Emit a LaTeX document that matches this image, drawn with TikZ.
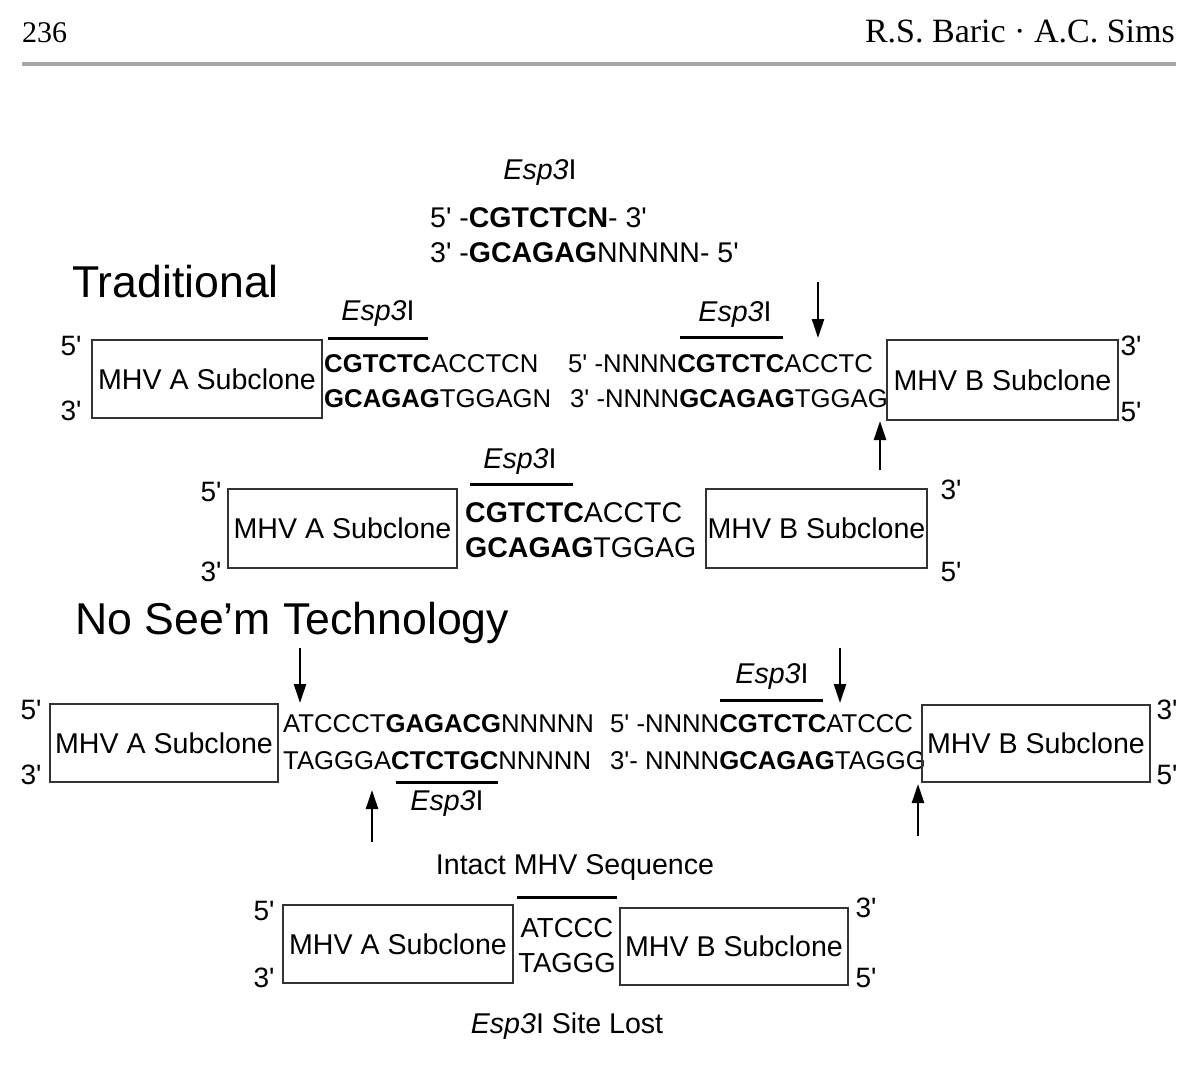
\documentclass[tikz,border=0pt]{standalone}
\usepackage{fontspec}
\setmainfont{Liberation Sans}[Ligatures=TeXOff]
\newfontfamily\serifhead{Liberation Serif}
\usetikzlibrary{arrows.meta}
\newcommand\espname{\textit{Esp3}I}
\tikzset{
  sub/.style={draw=black!80, line width=2pt, minimum width=230pt, minimum height=78pt, inner sep=0pt, font=\fontsize{28.6}{31}\selectfont},
  seq/.style={anchor=west, inner sep=0pt, font=\fontsize{25.7}{28}\selectfont},
  seqbig/.style={anchor=west, inner sep=0pt, font=\fontsize{28.5}{31}\selectfont},
  endlab/.style={inner sep=0pt, font=\fontsize{28}{30}\selectfont},
  enz/.style={inner sep=0pt, font=\fontsize{28.6}{31}\selectfont},
  site/.style={line width=3pt},
  cutarrow/.style={line width=2.5pt, -{Triangle[length=19pt,width=12pt]}},
  headline/.style={inner sep=0pt, font=\fontsize{44.6}{48}\selectfont},
}
\begin{document}
\begin{tikzpicture}[x=1pt,y=-1pt]
\useasboundingbox (0,0) rectangle (1200,1071);
% page header
\node[anchor=base west, inner sep=0pt, font=\serifhead\fontsize{30}{32}\selectfont] (pg) at (22,42) {236};
\node[anchor=base east, inner sep=0pt, font=\serifhead\fontsize{34}{36}\selectfont] (au) at (1175,42) {R.S. Baric · A.C. Sims};
\coordinate (r1) at (22,64); \coordinate (r2) at (1176,64);
\draw[line width=4.5pt, gray!70] (r1) -- (r2);

% enzyme definition
\node[enz] (e0) at (540,172) {\espname};
\node[seqbig] (t1) at (430,218) {5' -\textbf{CGTCTCN}- 3'};
\node[seqbig] (t2) at (430,253) {3' -\textbf{GCAGAG}NNNNN- 5'};

% Traditional
\node[headline, anchor=west] (trad) at (72,282) {Traditional};

% row 1
\node[sub] (a1) at (207,379) {MHV A Subclone};
\node[endlab] (a1p) at (71,346) {5'};
\node[endlab] (a1q) at (71,411) {3'};
\node[seq] (s1a) at (324,364) {\textbf{CGTCTC}ACCTCN};
\node[seq] (s1b) at (324,399) {\textbf{GCAGAG}TGGAGN};
\coordinate (o1a) at (328,338); \coordinate (o1b) at (428,338);
\draw[site] (o1a) -- (o1b);
\node[enz] (e1) at (378,313) {\espname};

\node[seq] (s1c) at (568,364) {5' -NNNN\textbf{CGTCTC}ACCTC};
\node[seq] (s1d) at (570,399) {3' -NNNN\textbf{GCAGAG}TGGAG};
\coordinate (o2a) at (680,337); \coordinate (o2b) at (783,337);
\draw[site] (o2a) -- (o2b);
\node[enz] (e2) at (735,314) {\espname};
\coordinate (k1s) at (818,282); \coordinate (k1e) at (818,338);
\draw[cutarrow] (k1s) -- (k1e);
\node[sub, minimum width=231pt, minimum height=80pt] (b1) at (1002.5,380) {MHV B Subclone};
\node[endlab] (b1p) at (1131,346) {3'};
\node[endlab] (b1q) at (1131,412) {5'};
\coordinate (k2s) at (880,470); \coordinate (k2e) at (880,421);
\draw[cutarrow] (k2s) -- (k2e);

% row 2
\node[sub, minimum width=229pt, minimum height=79pt] (a2) at (342.5,528.5) {MHV A Subclone};
\node[endlab] (a2p) at (211,492) {5'};
\node[endlab] (a2q) at (211,572) {3'};
\node[seqbig] (s2a) at (465,513) {\textbf{CGTCTC}ACCTC};
\node[seqbig] (s2b) at (465,548) {\textbf{GCAGAG}TGGAG};
\coordinate (o3a) at (470,484); \coordinate (o3b) at (573,484);
\draw[site] (o3a) -- (o3b);
\node[enz] (e3) at (520,461) {\espname};
\node[sub, minimum width=221pt, minimum height=79pt] (b2) at (816.5,528.5) {MHV B Subclone};
\node[endlab] (b2p) at (951,490) {3'};
\node[endlab] (b2q) at (951,572) {5'};

% No See'm
\node[headline, anchor=base west] (nsm) at (75,634) {No See’m Technology};

% row 3
\node[sub, minimum width=228pt] (a3) at (164,743) {MHV A Subclone};
\node[endlab] (a3p) at (31,710) {5'};
\node[endlab] (a3q) at (31,775) {3'};
\coordinate (k3s) at (300,648); \coordinate (k3e) at (300,703);
\draw[cutarrow] (k3s) -- (k3e);
\node[seq] (s3a) at (283,724) {ATCCCT\textbf{GAGACG}NNNNN};
\node[seq] (s3b) at (283,761) {TAGGGA\textbf{CTCTGC}NNNNN};
\coordinate (o4a) at (396,782); \coordinate (o4b) at (498,782);
\draw[site] (o4a) -- (o4b);
\node[enz] (e4) at (447,803) {\espname};
\coordinate (k4s) at (372,842); \coordinate (k4e) at (372,790);
\draw[cutarrow] (k4s) -- (k4e);

\node[seq] (s3c) at (610,724) {5' -NNNN\textbf{CGTCTC}ATCCC};
\node[seq] (s3d) at (610,761) {3'- NNNN\textbf{GCAGAG}TAGGG};
\coordinate (o5a) at (720,700); \coordinate (o5b) at (823,700);
\draw[site] (o5a) -- (o5b);
\node[enz] (e5) at (772,676) {\espname};
\coordinate (k5s) at (840,648); \coordinate (k5e) at (840,703);
\draw[cutarrow] (k5s) -- (k5e);
\node[sub, minimum width=228pt, minimum height=77pt] (b3) at (1036,743.5) {MHV B Subclone};
\node[endlab] (b3p) at (1167,710) {3'};
\node[endlab] (b3q) at (1167,775) {5'};
\coordinate (k6s) at (918,836); \coordinate (k6e) at (918,784);
\draw[cutarrow] (k6s) -- (k6e);

% row 4
\node[enz] (intact) at (575,867) {Intact MHV Sequence};
\coordinate (o6a) at (517,897); \coordinate (o6b) at (617,897);
\draw[site] (o6a) -- (o6b);
\node[sub] (a4) at (398,944) {MHV A Subclone};
\node[endlab] (a4p) at (264,911) {5'};
\node[endlab] (a4q) at (264,978) {3'};
\node[enz, font=\fontsize{27.5}{30}\selectfont] (j1) at (567,928) {ATCCC};
\node[enz, font=\fontsize{27.5}{30}\selectfont] (j2) at (567,963) {TAGGG};
\node[sub, minimum width=228pt, minimum height=77pt] (b4) at (734,946.5) {MHV B Subclone};
\node[endlab] (b4p) at (866,908) {3'};
\node[endlab] (b4q) at (866,978) {5'};
\node[enz] (lost) at (567,1026) {\espname{} Site Lost};
\end{tikzpicture}
\end{document}
